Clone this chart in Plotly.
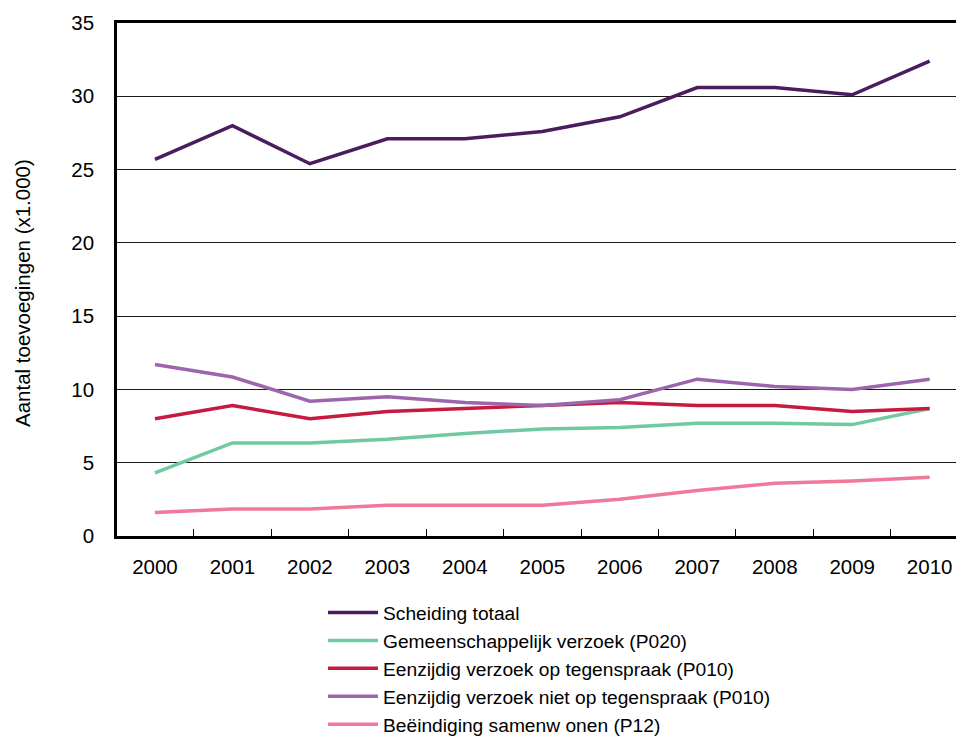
import plotly.graph_objects as go

years = ["2000", "2001", "2002", "2003", "2004", "2005", "2006", "2007", "2008", "2009", "2010"]

scheiding_totaal = [25.7, 28.0, 25.4, 27.1, 27.1, 27.6, 28.6, 30.6, 30.6, 30.1, 32.4]
gemeenschappelijk = [4.3, 6.35, 6.35, 6.6, 7.0, 7.3, 7.4, 7.7, 7.7, 7.6, 8.7]
eenzijdig_tegenspraak = [8.0, 8.9, 8.0, 8.5, 8.7, 8.9, 9.1, 8.9, 8.9, 8.5, 8.7]
eenzijdig_niet_tegenspraak = [11.7, 10.85, 9.2, 9.5, 9.1, 8.9, 9.3, 10.7, 10.2, 10.0, 10.7]
beeindiging_samenwonen = [1.6, 1.85, 1.85, 2.1, 2.1, 2.1, 2.5, 3.1, 3.6, 3.75, 4.0]

series_names = [
    "Scheiding totaal",
    "Gemeenschappelijk verzoek (P020)",
    "Eenzijdig verzoek op tegenspraak (P010)",
    "Eenzijdig verzoek niet op tegenspraak (P010)",
    "Beëindiging samenw onen (P12)",
]
series_values = [scheiding_totaal, gemeenschappelijk, eenzijdig_tegenspraak,
                 eenzijdig_niet_tegenspraak, beeindiging_samenwonen]
series_colors = ["#4b1d5e", "#6fc9a1", "#c61a3e", "#9c66ad", "#f07899"]

y_ticks = [0, 5, 10, 15, 20, 25, 30, 35]

FONT = "Liberation Sans, Arial, sans-serif"
FS = 20.5
LFS = 19.2

fig = go.Figure()
for name, vals, col in zip(series_names, series_values, series_colors):
    fig.add_trace(go.Scatter(
        x=years, y=vals, name=name, mode="lines",
        line=dict(color=col, width=3.5),
    ))

W, H = 956, 753
ml, mr, mt, mb = 117, 0, 23, 217

fig.update_layout(
    width=W, height=H,
    margin=dict(l=ml, r=mr, t=mt, b=mb),
    paper_bgcolor="white", plot_bgcolor="white",
    font=dict(family=FONT, size=FS, color="black"),
    showlegend=True,
    legend=dict(
        x=(323 - ml) / (W - ml - mr), xanchor="left",
        y=-0.112, yanchor="top",
        bgcolor="rgba(0,0,0,0)",
        font=dict(family=FONT, size=LFS, color="black"),
        tracegroupgap=0, itemwidth=50,
    ),
    xaxis=dict(
        type="category",
        range=[-0.49, 10.34],
        showline=True, linecolor="black", linewidth=2.5,
        mirror=True,
        ticks="inside", ticklen=7, tickcolor="black", tickwidth=1.2,
        tickson="boundaries",
        showgrid=False,
        tickfont=dict(family=FONT, size=FS, color="black"),
        ticklabelstandoff=11,
    ),
    yaxis=dict(
        range=[0, 35],
        tickvals=y_ticks,
        showline=True, linecolor="black", linewidth=2.5,
        showgrid=True, gridcolor="#1a1a1a", gridwidth=1,
        ticks="",
        zeroline=False,
        tickfont=dict(family=FONT, size=FS, color="black"),
        ticklabelstandoff=16,
    ),
    annotations=[dict(
        text="Aantal toevoegingen (x1.000)",
        xref="paper", yref="paper",
        x=(22 - ml) / (W - ml - mr), y=(H - mb - 293) / (H - mt - mb),
        xanchor="center", yanchor="middle",
        textangle=-90, showarrow=False,
        font=dict(family=FONT, size=FS, color="black"),
    )],
)

fig.write_html("out.html",
               config={"displayModeBar": False},
               post_script="document.body.style.margin='0';document.body.style.overflow='hidden';")
